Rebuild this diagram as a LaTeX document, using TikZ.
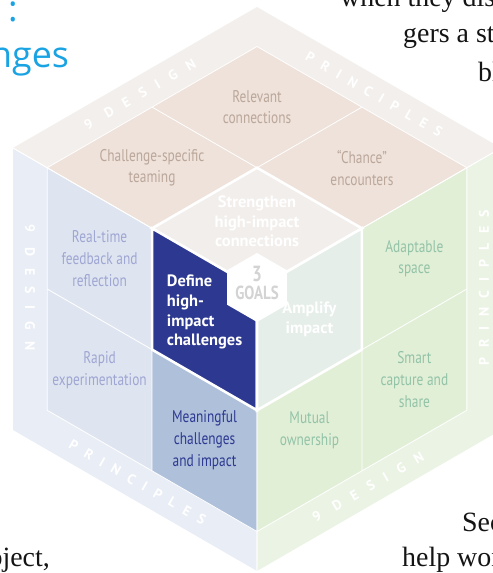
\documentclass[tikz,border=0pt]{standalone}
\usepackage{fontspec}
\setmainfont{Liberation Serif}
\newfontfamily\condfont{PT Sans}[FakeStretch=0.79]
\newfontfamily\goalfont{PT Sans}
\newfontfamily\bandfont{PT Sans}[LetterSpace=83]
\newfontfamily\headfont{Open Sans}
\definecolor{topband}{HTML}{F3EFEC}
\definecolor{topcell}{HTML}{EEE2DA}
\definecolor{topgoal}{HTML}{F2EEEB}
\definecolor{toptext}{HTML}{BBA79A}
\definecolor{leftband}{HTML}{E9EDF6}
\definecolor{leftcell}{HTML}{DFE5F0}
\definecolor{navy}{HTML}{2D3990}
\definecolor{midblue}{HTML}{AFC0DB}
\definecolor{lefttext}{HTML}{9EA6D3}
\definecolor{rightband}{HTML}{EBF4E4}
\definecolor{rightcell}{HTML}{E2EFD7}
\definecolor{rightgoal}{HTML}{E5EEE8}
\definecolor{righttext}{HTML}{92C3A7}
\definecolor{goalgray}{HTML}{D3D3D3}
\definecolor{headblue}{HTML}{1AA3E3}
\tikzset{
  topface/.style={shift={(257bp,284bp)},x={(-244bp,141bp)},y={(244bp,141bp)}},
  leftface/.style={shift={(257bp,284bp)},x={(-244bp,141bp)},y={(0bp,-282bp)}},
  rightface/.style={shift={(257bp,284bp)},x={(244bp,141bp)},y={(0bp,-282bp)}},
  thinline/.style={draw=white,line width=0.8pt},
  goalline/.style={draw=white,line width=2.6pt},
  celltext/.style={font=\condfont\fontsize{17}{22}\selectfont,align=center,inner sep=0pt},
  goaltext/.style={font=\goalfont\bfseries\fontsize{16.5}{19.7}\selectfont,inner sep=0pt},
  bandtext/.style={font=\bandfont\bfseries\fontsize{14}{14}\selectfont,text=white,inner sep=0pt},
  pagetext/.style={font=\fontsize{28}{34}\selectfont,text=black!92,inner sep=0pt,anchor=base west},
}
\begin{document}
\begin{tikzpicture}[x=1bp,y=1bp]
\path[use as bounding box,clip] (0,0) rectangle (493,573);
% faces of the cube
\foreach \f/\b/\c in {topface/topband/topcell,leftface/leftband/leftcell,rightface/rightband/rightcell}{
  \fill[\f,\b] (0,0) -- (1,0) -- (1,1) -- (0,1) -- cycle;
  \fill[\f,\c] (0,0) -- (.86,0) -- (.86,.86) -- (0,.86) -- cycle;
}
\fill[leftface,midblue] (0,.43) -- (.43,.43) -- (.43,.86) -- (0,.86) -- cycle;
\foreach \f in {topface,leftface,rightface}{
  \draw[\f,thinline] (0,0) -- (.86,0) -- (.86,.86) -- (0,.86) -- cycle;
  \draw[\f,thinline] (.43,0) -- (.43,.86) (0,.43) -- (.86,.43) (.86,0) -- (1,0) (0,.86) -- (0,1);
}
% the three goals
\foreach \f/\g in {topface/topgoal,leftface/navy,rightface/rightgoal}
  \filldraw[\f,fill=\g,goalline] (0,0) -- (.43,0) -- (.43,.43) -- (0,.43) -- cycle;
\filldraw[fill=white,goalline] (257,285.5) ++(90:33) -- ++(210:33) -- ++(270:33) -- ++(330:33) -- ++(30:33) -- ++(90:33) -- cycle;
\node[font=\condfont\bfseries\fontsize{22}{22}\selectfont,text=goalgray,inner sep=0pt] (three) at (257,299) {3};
\node[font=\condfont\bfseries\fontsize{19}{19}\selectfont,text=goalgray,inner sep=0pt] (goalword) at (257,280) {GOALS};
%
\begin{scope}[topface]
\node[celltext,text=toptext] (relevant) at (.645,.645) {Relevant\\connections};
\node[celltext,text=toptext] (teaming) at (.645,.215) {Challenge-specific\\teaming};
\node[celltext,text=toptext] (chance) at (.215,.645) {“Chance”\\encounters};
\node[goaltext,text=white,align=center] (strengthen) at (.24,.24) {Strengthen\\high-impact\\connections};
\node[bandtext,rotate=30] (tlband) at (.93,.45) {9 DESIGN};
\node[bandtext,rotate=-30] (trband) at (.45,.93) {\addfontfeatures{LetterSpace=67}PRINCIPLES};
\end{scope}
\begin{scope}[leftface]
\node[celltext,text=lefttext] (feedback) at (.645,.215) {Real-time\\feedback and\\reflection};
\node[celltext,text=lefttext] (rapid) at (.645,.61) {Rapid\\experimentation};
\node[goaltext,text=white,align=left] (define) at (.215,.19) {Define\\high-\\impact\\challenges};
\node[celltext,text=navy] (meaningful) at (.215,.645) {Meaningful\\challenges\\and impact};
\node[bandtext,rotate=-90] (lband) at (.93,.46) {9 DESIGN};
\node[bandtext,rotate=-30] (lbband) at (.49,.93) {\addfontfeatures{LetterSpace=67}PRINCIPLES};
\end{scope}
\begin{scope}[rightface]
\node[goaltext,text=white,align=center] (amplify) at (.215,.215) {Amplify\\impact};
\node[celltext,text=righttext] (adaptable) at (.645,.215) {Adaptable\\space};
\node[celltext,text=righttext] (smart) at (.645,.645) {Smart\\capture and\\share};
\node[celltext,text=righttext] (mutual) at (.215,.61) {Mutual\\ownership};
\node[bandtext,rotate=90] (rband) at (.93,.46) {\addfontfeatures{LetterSpace=67}PRINCIPLES};
\node[bandtext,rotate=30] (rbband) at (.455,.93) {9 DESIGN};
\end{scope}
% page text round the figure
\node[font=\headfont\fontsize{36}{40}\selectfont,text=headblue,inner sep=0pt,anchor=base west] (colon) at (8,551) {:};
\node[font=\headfont\fontsize{36}{40}\selectfont,text=headblue,inner sep=0pt,anchor=base west] (nges) at (-10,505) {nges};
\node[pagetext] (lineA) at (340,566) {when they dis};
\node[pagetext] (lineB) at (403,530) {gers a st};
\node[pagetext] (lineC) at (478,491) {bly};
\node[pagetext] (lineD) at (462,41) {Sec};
\node[pagetext] (lineE) at (402,6) {help wor};
\node[pagetext,anchor=base east] (lineF) at (50,6) {oject,};
\end{tikzpicture}
\end{document}
